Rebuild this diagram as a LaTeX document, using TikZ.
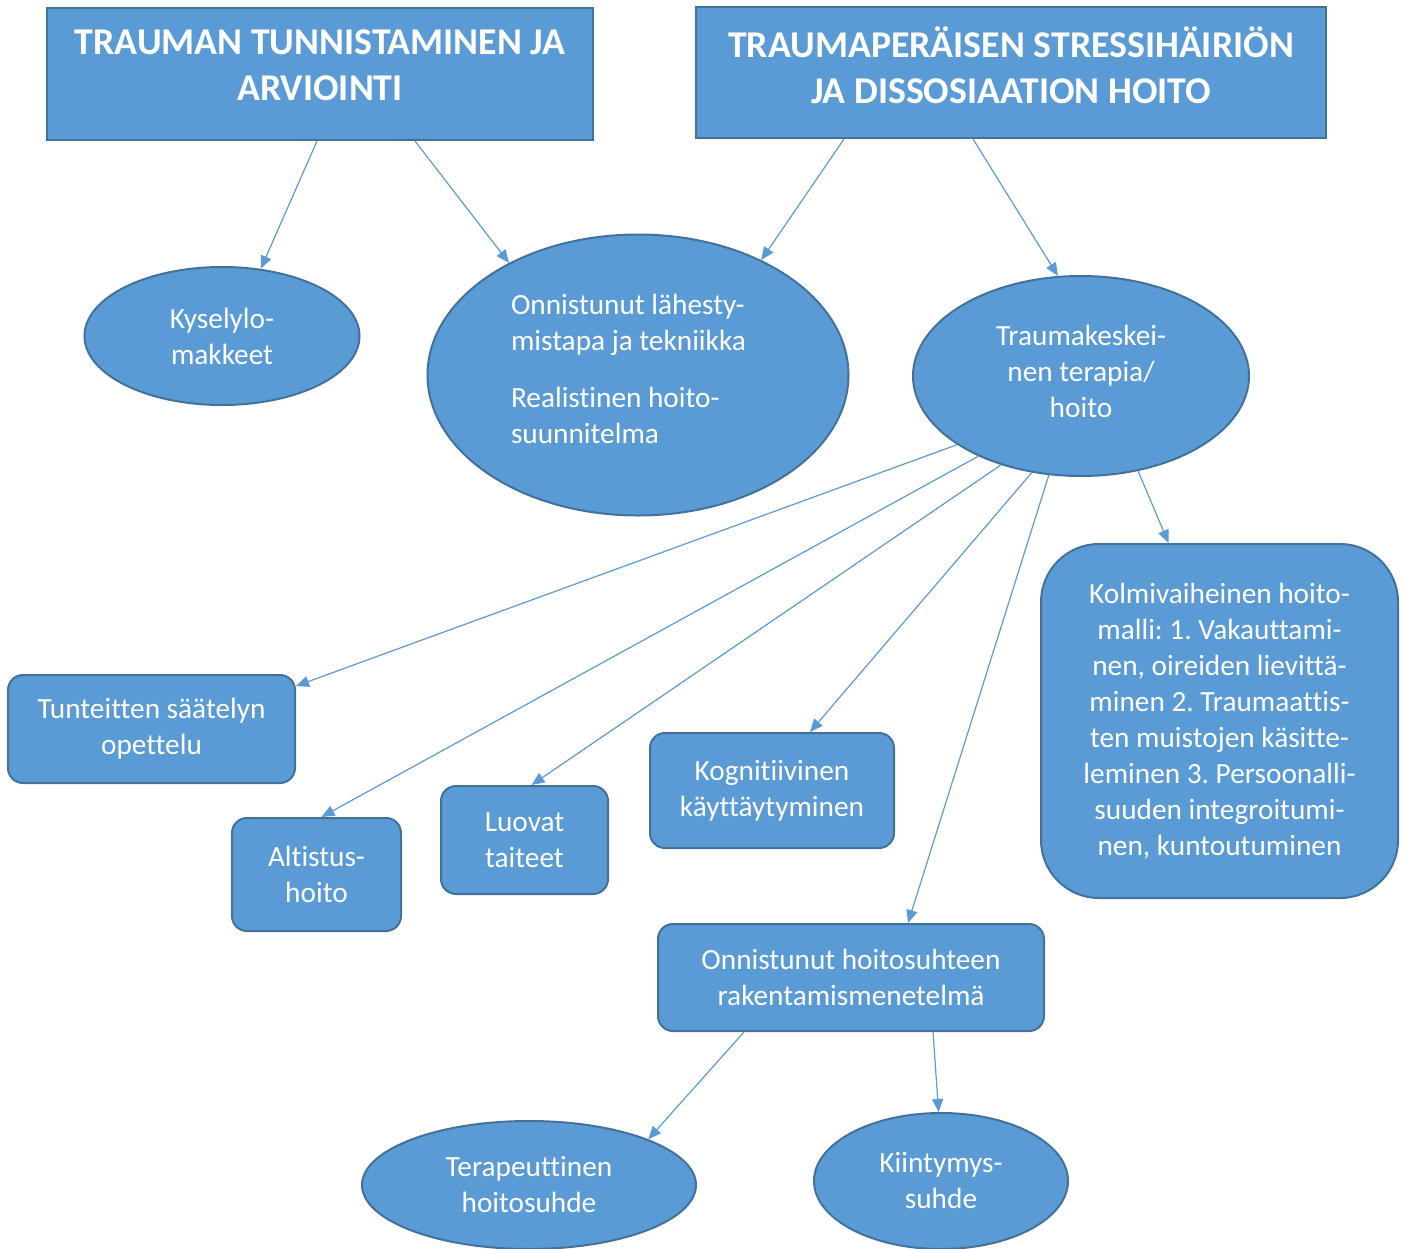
\documentclass[tikz,border=0pt]{standalone}
\usepackage{fontspec}
\setmainfont{Carlito}[Ligatures={NoCommon}]
\usetikzlibrary{shapes.geometric,arrows.meta}
\definecolor{boxfill}{HTML}{5B9BD5}
\definecolor{boxline}{HTML}{41719C}
\begin{document}
\frenchspacing
\begin{tikzpicture}[x=1pt,y=-1pt,
 base/.style={fill=boxfill,draw=boxline,line width=2pt,text=white,inner sep=0pt,align=center,font=\frenchspacing\fontsize{29.3}{36}\selectfont},
 title/.style={base,rectangle,font=\frenchspacing\bfseries\fontsize{37.8}{46}\selectfont},
 oval/.style={base,ellipse},
 rbox/.style={base,rectangle,rounded corners=15pt},
 conn/.style={draw=boxfill,line width=1.2pt,-{Triangle[length=13pt,width=11pt]}}]
\useasboundingbox (0,0) rectangle (1406,1248);
\node[title,minimum width=546pt,minimum height=132pt] (t1) at (320,74) {TRAUMAN TUNNISTAMINEN JA\\ARVIOINTI\\[-28pt]\mbox{}};
\node[title,minimum width=630pt,minimum height=131pt] (t2) at (1011,72.5) {TRAUMAPERÄISEN STRESSIHÄIRIÖN\\JA DISSOSIAATION HOITO\\[-31pt]\mbox{}};
\node[oval,minimum width=275pt,minimum height=138pt] (ky) at (222,336) {Kyselylo-\\makkeet};
\node[oval,minimum width=421pt,minimum height=281pt,align=left] (on) at (638,375) {\makebox[254pt][l]{Onnistunut lähesty-}\\mistapa ja tekniikka\\[21pt]Realistinen hoito-\\suunnitelma\\[-24pt]\mbox{}};
\node[oval,minimum width=336pt,minimum height=200pt] (tk) at (1081,376) {Traumakeskei-\\nen terapia/\\hoito\\[-26pt]\mbox{}};
\node[rbox,rounded corners=58pt,minimum width=357pt,minimum height=354pt] (ko) at (1219.5,721) {Kolmivaiheinen hoito-\\malli: 1. Vakauttami-\\nen, oireiden lievittä-\\minen 2. Traumaattis-\\ten muistojen käsitte-\\leminen 3. Persoonalli-\\suuden integroitumi-\\nen, kuntoutuminen};
\node[rbox,minimum width=287pt,minimum height=108pt] (tu) at (151.5,729) {Tunteitten säätelyn\\opettelu};
\node[rbox,minimum width=169pt,minimum height=113pt] (al) at (316.5,874.5) {Altistus-\\hoito};
\node[rbox,minimum width=167pt,minimum height=108pt] (lu) at (524.5,840) {Luovat\\taiteet};
\node[rbox,minimum width=244pt,minimum height=115pt] (kg) at (772,790.5) {Kognitiivinen\\käyttäytyminen};
\node[rbox,minimum width=386pt,minimum height=107pt] (hs) at (851,977.5) {Onnistunut hoitosuhteen\\rakentamismenetelmä};
\node[oval,minimum width=334pt,minimum height=128pt] (te) at (529,1185) {Terapeuttinen\\hoitosuhde};
\node[oval,minimum width=254pt,minimum height=136pt] (ki) at (941,1181) {Kiintymys-\\suhde};
\draw[conn] ([xshift=-3pt]t1.south) -- (ky.60);
\draw[conn] ([xshift=95pt]t1.south) -- (on.139.6);
\draw[conn] ([xshift=-167pt]t2.south) -- (on.43.8);
\draw[conn] ([xshift=-38pt]t2.south) -- (tk.103.8);
\draw[conn] (tk.209.8) -- ([yshift=43pt]tu.east);
\draw[conn] (tk.218.3) -- ([xshift=5pt]al.north);
\draw[conn] (tk.228.7) -- ([xshift=7pt]lu.north);
\draw[conn] (tk.243) -- ([xshift=38pt]kg.north);
\draw[conn] (tk.252.6) -- ([xshift=57pt]hs.north);
\draw[conn] (tk.301) -- ([xshift=-51pt]ko.north);
\draw[conn] ([xshift=-107pt]hs.south) -- (te.21.2);
\draw[conn] ([xshift=82pt]hs.south) -- (ki.92);
\end{tikzpicture}
\end{document}
